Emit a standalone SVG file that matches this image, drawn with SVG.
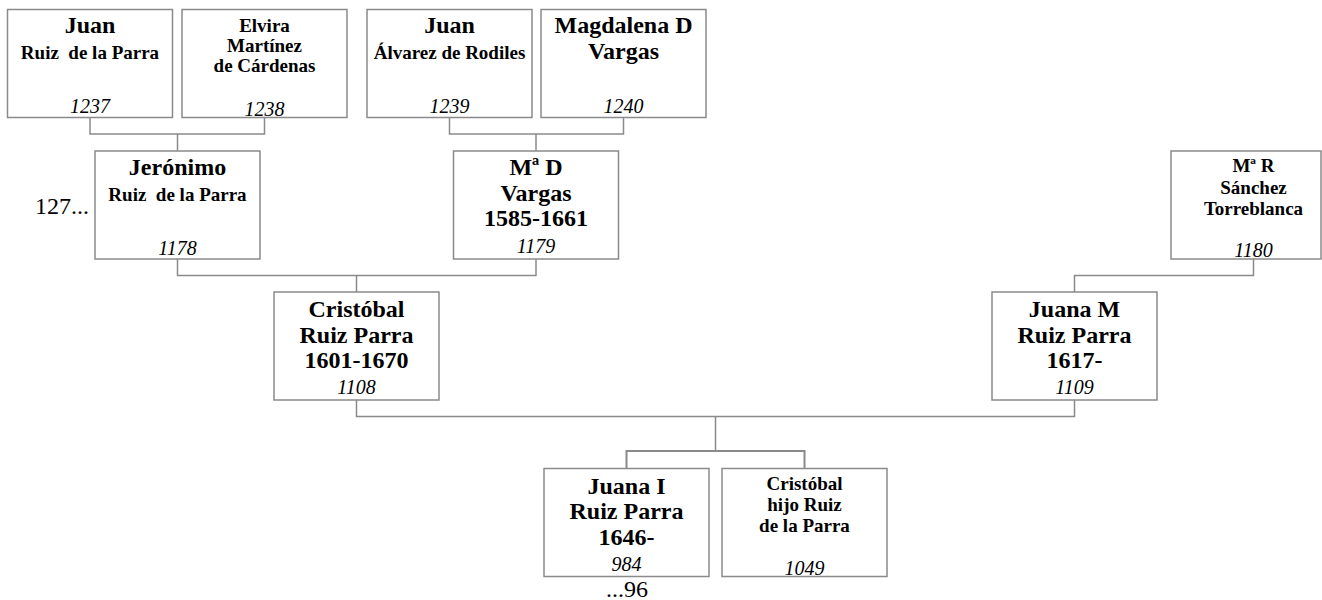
<svg xmlns="http://www.w3.org/2000/svg" width="1322" height="600" viewBox="0 0 1322 600">
<style>
.box{fill:#fff;stroke:#8a8a8a;stroke-width:1.5}
.ln{fill:none;stroke:#8a8a8a;stroke-width:1.5}
text{font-family:"Liberation Serif","Times New Roman",serif;fill:#000;text-anchor:middle}
.b{font-weight:bold;font-size:24px}
.m{font-weight:bold;font-size:19px;white-space:pre}
.n{font-style:italic;font-size:20px}
.p{font-size:24px}
</style>
<rect width="1322" height="600" fill="#fff"/>
<g id="connectors">
<path class="ln" d="M90,117.5V134H264.5V117.5M177.5,134V151"/>
<path class="ln" d="M449.5,117.5V134H623.5V117.5M536,134V151"/>
<path class="ln" d="M177.5,259V275.5H536V259M356.5,275.5V292"/>
<path class="ln" d="M1253.5,259V275.5H1074.5V292"/>
<path class="ln" d="M356.5,400V416.5H1074.5V400M715.5,416.5V451"/>
<path class="ln" d="M626.5,468.5V451H804.5V468.5" style="stroke-width:2"/>
</g>
<g id="n1237">
<rect class="box" x="7.5" y="9.5" width="165" height="108"/>
<text class="b" x="90" y="33">Juan</text>
<text class="m" x="90" y="59" xml:space="preserve">Ruiz  de la Parra</text>
<text class="n" x="90" y="113">1237</text>
</g>
<g id="n1238">
<rect class="box" x="182" y="9.5" width="165" height="108"/>
<text class="m" x="264.5" y="32">Elvira</text>
<text class="m" x="264.5" y="52">Martínez</text>
<text class="m" x="264.5" y="72">de Cárdenas</text>
<text class="n" x="264.5" y="115.5">1238</text>
</g>
<g id="n1239">
<rect class="box" x="367" y="9.5" width="165" height="108"/>
<text class="b" x="449.5" y="33">Juan</text>
<text class="m" x="449.5" y="59">Álvarez de Rodiles</text>
<text class="n" x="449.5" y="113">1239</text>
</g>
<g id="n1240">
<rect class="box" x="541" y="9.5" width="165" height="108"/>
<text class="b" x="623.5" y="33">Magdalena D</text>
<text class="b" x="623.5" y="59">Vargas</text>
<text class="n" x="623.5" y="113">1240</text>
</g>
<g id="n1178">
<rect class="box" x="95" y="151" width="165" height="108"/>
<text class="b" x="177.5" y="175">Jerónimo</text>
<text class="m" x="177.5" y="201" xml:space="preserve">Ruiz  de la Parra</text>
<text class="n" x="177.5" y="254.5">1178</text>
</g>
<text class="p" x="89" y="214" style="text-anchor:end">127...</text>
<g id="n1179">
<rect class="box" x="453.5" y="151" width="165" height="108"/>
<text class="b" x="536" y="175">Mª D</text>
<text class="b" x="536" y="200.5">Vargas</text>
<text class="b" x="536" y="226">1585-1661</text>
<text class="n" x="536" y="253">1179</text>
</g>
<g id="n1180">
<rect class="box" x="1171" y="151" width="150" height="108"/>
<text class="m" x="1253.5" y="172">Mª R</text>
<text class="m" x="1253.5" y="193.5">Sánchez</text>
<text class="m" x="1253.5" y="215">Torreblanca</text>
<text class="n" x="1253.5" y="256.5">1180</text>
</g>
<g id="n1108">
<rect class="box" x="274" y="292" width="165" height="108"/>
<text class="b" x="356.5" y="317">Cristóbal</text>
<text class="b" x="356.5" y="342.5">Ruiz Parra</text>
<text class="b" x="356.5" y="368">1601-1670</text>
<text class="n" x="356.5" y="394">1108</text>
</g>
<g id="n1109">
<rect class="box" x="992" y="292" width="165" height="108"/>
<text class="b" x="1074.5" y="317">Juana M</text>
<text class="b" x="1074.5" y="342.5">Ruiz Parra</text>
<text class="b" x="1074.5" y="368">1617-</text>
<text class="n" x="1074.5" y="394">1109</text>
</g>
<g id="n984">
<rect class="box" x="544" y="468.5" width="165" height="108"/>
<text class="b" x="626.5" y="493.5">Juana I</text>
<text class="b" x="626.5" y="519">Ruiz Parra</text>
<text class="b" x="626.5" y="545">1646-</text>
<text class="n" x="626.5" y="571">984</text>
</g>
<text class="p" x="627" y="597">...96</text>
<g id="n1049">
<rect class="box" x="722" y="468.5" width="165" height="108"/>
<text class="m" x="804.5" y="490">Cristóbal</text>
<text class="m" x="804.5" y="511">hijo Ruiz</text>
<text class="m" x="804.5" y="532">de la Parra</text>
<text class="n" x="804.5" y="575">1049</text>
</g>
</svg>
